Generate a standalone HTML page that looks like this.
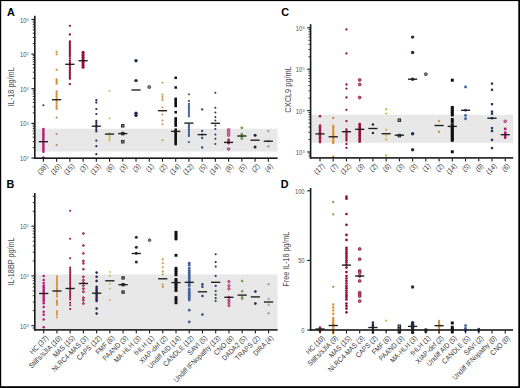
<!DOCTYPE html>
<html><head><meta charset="utf-8"><style>
html,body{margin:0;padding:0;background:#fff;width:520px;height:388px;overflow:hidden;}
svg{display:block;font-family:"Liberation Sans",sans-serif;}
</style></head><body>
<svg width="520" height="388" viewBox="0 0 520 388" font-family="Liberation Sans, sans-serif" fill="#2e2e2e">
<rect width="520" height="388" fill="#fff"/>
<rect x="34.80" y="128.70" width="242.80" height="22.80" fill="#e8e8e8"/>
<circle cx="43.40" cy="105.30" r="1.06" fill="#5e2a55"/>
<circle cx="43.40" cy="129.10" r="1.25" fill="#b01a74"/>
<circle cx="43.40" cy="130.84" r="1.25" fill="#b01a74"/>
<circle cx="43.40" cy="132.58" r="1.25" fill="#b01a74"/>
<circle cx="43.40" cy="134.32" r="1.25" fill="#b01a74"/>
<circle cx="43.40" cy="136.05" r="1.25" fill="#b01a74"/>
<circle cx="43.40" cy="137.79" r="1.25" fill="#b01a74"/>
<circle cx="43.40" cy="139.53" r="1.25" fill="#b01a74"/>
<circle cx="43.40" cy="141.27" r="1.25" fill="#b01a74"/>
<circle cx="43.40" cy="143.01" r="1.25" fill="#b01a74"/>
<circle cx="43.40" cy="144.75" r="1.25" fill="#b01a74"/>
<circle cx="43.40" cy="146.48" r="1.25" fill="#b01a74"/>
<circle cx="43.40" cy="148.22" r="1.25" fill="#b01a74"/>
<circle cx="43.40" cy="149.96" r="1.25" fill="#b01a74"/>
<circle cx="43.40" cy="151.70" r="1.25" fill="#b01a74"/>
<circle cx="43.40" cy="157.50" r="1.25" fill="#b01a74"/>
<circle cx="56.63" cy="51.80" r="1.15" fill="#da8f36"/>
<circle cx="56.63" cy="54.30" r="1.15" fill="#da8f36"/>
<circle cx="56.63" cy="69.80" r="1.15" fill="#da8f36"/>
<circle cx="56.63" cy="79.40" r="1.15" fill="#da8f36"/>
<circle cx="56.63" cy="80.83" r="1.15" fill="#da8f36"/>
<circle cx="56.63" cy="82.27" r="1.15" fill="#da8f36"/>
<circle cx="56.63" cy="83.70" r="1.15" fill="#da8f36"/>
<circle cx="56.63" cy="91.40" r="1.15" fill="#da8f36"/>
<circle cx="56.63" cy="93.14" r="1.15" fill="#da8f36"/>
<circle cx="56.63" cy="94.88" r="1.15" fill="#da8f36"/>
<circle cx="56.63" cy="96.62" r="1.15" fill="#da8f36"/>
<circle cx="56.63" cy="98.36" r="1.15" fill="#da8f36"/>
<circle cx="56.63" cy="100.10" r="1.15" fill="#da8f36"/>
<circle cx="56.63" cy="101.84" r="1.15" fill="#da8f36"/>
<circle cx="56.63" cy="103.58" r="1.15" fill="#da8f36"/>
<circle cx="56.63" cy="105.32" r="1.15" fill="#da8f36"/>
<circle cx="56.63" cy="107.06" r="1.15" fill="#da8f36"/>
<circle cx="56.63" cy="108.80" r="1.15" fill="#da8f36"/>
<circle cx="56.63" cy="117.50" r="1.09" fill="#b08a4a"/>
<circle cx="56.63" cy="134.00" r="1.09" fill="#b08a4a"/>
<circle cx="56.63" cy="145.00" r="1.09" fill="#b08a4a"/>
<circle cx="69.86" cy="25.80" r="1.15" fill="#940e3e"/>
<circle cx="69.86" cy="34.50" r="1.15" fill="#940e3e"/>
<circle cx="69.86" cy="41.30" r="1.15" fill="#940e3e"/>
<circle cx="69.86" cy="42.96" r="1.15" fill="#940e3e"/>
<circle cx="69.86" cy="44.61" r="1.15" fill="#940e3e"/>
<circle cx="69.86" cy="46.27" r="1.15" fill="#940e3e"/>
<circle cx="69.86" cy="47.92" r="1.15" fill="#940e3e"/>
<circle cx="69.86" cy="49.58" r="1.15" fill="#940e3e"/>
<circle cx="69.86" cy="51.23" r="1.15" fill="#940e3e"/>
<circle cx="69.86" cy="52.89" r="1.15" fill="#940e3e"/>
<circle cx="69.86" cy="54.54" r="1.15" fill="#940e3e"/>
<circle cx="69.86" cy="56.20" r="1.15" fill="#940e3e"/>
<circle cx="69.86" cy="58.50" r="1.15" fill="#940e3e"/>
<circle cx="69.86" cy="60.70" r="1.15" fill="#940e3e"/>
<circle cx="69.86" cy="62.35" r="1.15" fill="#940e3e"/>
<circle cx="69.86" cy="63.99" r="1.15" fill="#940e3e"/>
<circle cx="69.86" cy="65.64" r="1.15" fill="#940e3e"/>
<circle cx="69.86" cy="67.28" r="1.15" fill="#940e3e"/>
<circle cx="69.86" cy="68.93" r="1.15" fill="#940e3e"/>
<circle cx="69.86" cy="70.57" r="1.15" fill="#940e3e"/>
<circle cx="69.86" cy="72.22" r="1.15" fill="#940e3e"/>
<circle cx="69.86" cy="73.86" r="1.15" fill="#940e3e"/>
<circle cx="69.86" cy="75.51" r="1.15" fill="#940e3e"/>
<circle cx="69.86" cy="77.15" r="1.15" fill="#940e3e"/>
<circle cx="69.86" cy="78.80" r="1.15" fill="#940e3e"/>
<circle cx="69.86" cy="84.20" r="1.15" fill="#940e3e"/>
<circle cx="83.09" cy="52.20" r="1.50" fill="#940e3e"/>
<circle cx="83.09" cy="53.88" r="1.50" fill="#940e3e"/>
<circle cx="83.09" cy="55.56" r="1.50" fill="#940e3e"/>
<circle cx="83.09" cy="57.23" r="1.50" fill="#940e3e"/>
<circle cx="83.09" cy="58.91" r="1.50" fill="#940e3e"/>
<circle cx="83.09" cy="60.59" r="1.50" fill="#940e3e"/>
<circle cx="83.09" cy="62.27" r="1.50" fill="#940e3e"/>
<circle cx="83.09" cy="63.94" r="1.50" fill="#940e3e"/>
<circle cx="83.09" cy="65.62" r="1.50" fill="#940e3e"/>
<circle cx="83.09" cy="67.30" r="1.50" fill="#940e3e"/>
<circle cx="96.32" cy="100.20" r="1.10" fill="#30204f"/>
<circle cx="96.32" cy="102.60" r="1.10" fill="#30204f"/>
<circle cx="96.32" cy="109.00" r="1.10" fill="#30204f"/>
<circle cx="96.32" cy="114.00" r="1.10" fill="#30204f"/>
<circle cx="96.32" cy="120.80" r="1.10" fill="#30204f"/>
<circle cx="96.32" cy="122.57" r="1.10" fill="#30204f"/>
<circle cx="96.32" cy="124.33" r="1.10" fill="#30204f"/>
<circle cx="96.32" cy="126.10" r="1.10" fill="#30204f"/>
<circle cx="96.32" cy="127.87" r="1.10" fill="#30204f"/>
<circle cx="96.32" cy="129.63" r="1.10" fill="#30204f"/>
<circle cx="96.32" cy="131.40" r="1.10" fill="#30204f"/>
<circle cx="96.32" cy="140.60" r="1.10" fill="#30204f"/>
<circle cx="96.32" cy="146.20" r="1.10" fill="#30204f"/>
<circle cx="96.32" cy="154.20" r="1.10" fill="#30204f"/>
<circle cx="109.55" cy="90.80" r="1.10" fill="#d6bd4f"/>
<circle cx="109.55" cy="118.30" r="1.10" fill="#d6bd4f"/>
<circle cx="109.55" cy="133.00" r="1.10" fill="#d6bd4f"/>
<circle cx="109.55" cy="134.90" r="1.10" fill="#d6bd4f"/>
<circle cx="109.55" cy="136.80" r="1.10" fill="#d6bd4f"/>
<circle cx="109.55" cy="138.70" r="1.10" fill="#d6bd4f"/>
<circle cx="109.55" cy="140.60" r="1.10" fill="#d6bd4f"/>
<rect x="121.58" y="124.60" width="2.40" height="2.40" fill="#b0b0b0" stroke="#2a2a2a" stroke-width="1.1"/>
<rect x="121.58" y="132.40" width="2.40" height="2.40" fill="#b0b0b0" stroke="#2a2a2a" stroke-width="1.1"/>
<rect x="121.58" y="140.50" width="2.40" height="2.40" fill="#b0b0b0" stroke="#2a2a2a" stroke-width="1.1"/>
<circle cx="136.01" cy="60.80" r="1.70" fill="#232a4c"/>
<circle cx="136.01" cy="80.60" r="1.70" fill="#232a4c"/>
<circle cx="136.01" cy="113.30" r="1.70" fill="#232a4c"/>
<circle cx="136.01" cy="115.50" r="1.70" fill="#232a4c"/>
<circle cx="149.24" cy="87.00" r="1.52" fill="#808289" stroke="#3d3f4a" stroke-width="0.8"/>
<circle cx="162.47" cy="82.80" r="1.00" fill="#c99350"/>
<circle cx="162.47" cy="94.60" r="1.00" fill="#c99350"/>
<circle cx="162.47" cy="96.50" r="1.00" fill="#c99350"/>
<circle cx="162.47" cy="98.40" r="1.00" fill="#c99350"/>
<circle cx="162.47" cy="100.30" r="1.00" fill="#c99350"/>
<circle cx="162.47" cy="107.30" r="1.00" fill="#c99350"/>
<circle cx="162.47" cy="110.70" r="1.00" fill="#c99350"/>
<circle cx="162.47" cy="114.50" r="1.00" fill="#c99350"/>
<circle cx="162.47" cy="120.50" r="1.00" fill="#c99350"/>
<circle cx="162.47" cy="124.30" r="1.00" fill="#c99350"/>
<circle cx="162.47" cy="140.30" r="1.00" fill="#c99350"/>
<rect x="174.44" y="76.53" width="2.53" height="2.53" fill="#111111"/>
<rect x="174.44" y="86.23" width="2.53" height="2.53" fill="#111111"/>
<rect x="174.44" y="97.53" width="2.53" height="2.53" fill="#111111"/>
<rect x="174.44" y="99.33" width="2.53" height="2.53" fill="#111111"/>
<rect x="174.44" y="101.14" width="2.53" height="2.53" fill="#111111"/>
<rect x="174.44" y="102.94" width="2.53" height="2.53" fill="#111111"/>
<rect x="174.44" y="104.73" width="2.53" height="2.53" fill="#111111"/>
<rect x="174.44" y="110.94" width="2.53" height="2.53" fill="#111111"/>
<rect x="174.44" y="117.14" width="2.53" height="2.53" fill="#111111"/>
<rect x="174.44" y="118.94" width="2.53" height="2.53" fill="#111111"/>
<rect x="174.44" y="120.73" width="2.53" height="2.53" fill="#111111"/>
<rect x="174.44" y="122.53" width="2.53" height="2.53" fill="#111111"/>
<rect x="174.44" y="124.33" width="2.53" height="2.53" fill="#111111"/>
<rect x="174.44" y="128.44" width="2.53" height="2.53" fill="#111111"/>
<rect x="174.44" y="130.24" width="2.53" height="2.53" fill="#111111"/>
<rect x="174.44" y="132.03" width="2.53" height="2.53" fill="#111111"/>
<rect x="174.44" y="133.84" width="2.53" height="2.53" fill="#111111"/>
<rect x="174.44" y="135.63" width="2.53" height="2.53" fill="#111111"/>
<rect x="174.44" y="137.44" width="2.53" height="2.53" fill="#111111"/>
<rect x="174.44" y="139.24" width="2.53" height="2.53" fill="#111111"/>
<rect x="174.44" y="141.03" width="2.53" height="2.53" fill="#111111"/>
<rect x="174.44" y="142.84" width="2.53" height="2.53" fill="#111111"/>
<circle cx="188.93" cy="94.30" r="1.15" fill="#42629b"/>
<circle cx="188.93" cy="100.90" r="1.15" fill="#42629b"/>
<circle cx="188.93" cy="104.00" r="1.15" fill="#42629b"/>
<circle cx="188.93" cy="105.76" r="1.15" fill="#42629b"/>
<circle cx="188.93" cy="107.51" r="1.15" fill="#42629b"/>
<circle cx="188.93" cy="109.27" r="1.15" fill="#42629b"/>
<circle cx="188.93" cy="111.03" r="1.15" fill="#42629b"/>
<circle cx="188.93" cy="112.79" r="1.15" fill="#42629b"/>
<circle cx="188.93" cy="114.54" r="1.15" fill="#42629b"/>
<circle cx="188.93" cy="116.30" r="1.15" fill="#42629b"/>
<circle cx="188.93" cy="124.60" r="1.15" fill="#42629b"/>
<circle cx="188.93" cy="126.21" r="1.15" fill="#42629b"/>
<circle cx="188.93" cy="127.83" r="1.15" fill="#42629b"/>
<circle cx="188.93" cy="129.44" r="1.15" fill="#42629b"/>
<circle cx="188.93" cy="131.06" r="1.15" fill="#42629b"/>
<circle cx="188.93" cy="132.67" r="1.15" fill="#42629b"/>
<circle cx="188.93" cy="134.29" r="1.15" fill="#42629b"/>
<circle cx="188.93" cy="135.90" r="1.15" fill="#42629b"/>
<circle cx="188.93" cy="142.10" r="1.15" fill="#42629b"/>
<circle cx="202.16" cy="109.40" r="1.15" fill="#2d3e6a"/>
<circle cx="202.16" cy="131.00" r="1.15" fill="#2d3e6a"/>
<circle cx="202.16" cy="134.60" r="1.15" fill="#2d3e6a"/>
<circle cx="202.16" cy="138.00" r="1.15" fill="#2d3e6a"/>
<circle cx="202.16" cy="147.50" r="1.15" fill="#2d3e6a"/>
<circle cx="215.39" cy="92.80" r="1.00" fill="#2a345c"/>
<circle cx="215.39" cy="107.80" r="1.00" fill="#2a345c"/>
<circle cx="215.39" cy="112.60" r="1.00" fill="#2a345c"/>
<circle cx="215.39" cy="117.10" r="1.00" fill="#2a345c"/>
<circle cx="215.39" cy="120.50" r="1.00" fill="#2a345c"/>
<circle cx="215.39" cy="125.50" r="1.00" fill="#2a345c"/>
<circle cx="215.39" cy="129.00" r="1.00" fill="#2a345c"/>
<circle cx="215.39" cy="134.60" r="1.00" fill="#2a345c"/>
<circle cx="215.39" cy="138.70" r="1.00" fill="#2a345c"/>
<circle cx="215.39" cy="143.90" r="1.00" fill="#2a345c"/>
<circle cx="228.62" cy="129.90" r="1.33" fill="#d98ab4" stroke="#b3166a" stroke-width="0.8"/>
<circle cx="228.62" cy="132.50" r="1.33" fill="#d98ab4" stroke="#b3166a" stroke-width="0.8"/>
<circle cx="228.62" cy="135.20" r="1.33" fill="#d98ab4" stroke="#b3166a" stroke-width="0.8"/>
<circle cx="228.62" cy="139.80" r="1.40" fill="#b3166a"/>
<circle cx="228.62" cy="141.60" r="1.40" fill="#b3166a"/>
<circle cx="228.62" cy="143.20" r="1.40" fill="#b3166a"/>
<circle cx="228.62" cy="149.00" r="1.33" fill="#d98ab4" stroke="#b3166a" stroke-width="0.8"/>
<circle cx="241.85" cy="127.80" r="1.40" fill="#739a48"/>
<circle cx="241.85" cy="134.20" r="1.40" fill="#739a48"/>
<circle cx="241.85" cy="136.70" r="1.40" fill="#739a48"/>
<circle cx="241.85" cy="138.70" r="1.40" fill="#739a48"/>
<circle cx="255.08" cy="135.20" r="1.50" fill="#1f2342"/>
<circle cx="255.08" cy="147.00" r="1.50" fill="#1f2342"/>
<circle cx="268.31" cy="131.10" r="1.40" fill="#a9a9a9"/>
<circle cx="268.31" cy="141.20" r="1.40" fill="#a9a9a9"/>
<circle cx="268.31" cy="146.30" r="1.40" fill="#a9a9a9"/>
<rect x="38.80" y="141.02" width="9.2" height="1.35" fill="#1c1f1c"/>
<rect x="52.03" y="99.03" width="9.2" height="1.35" fill="#1c1f1c"/>
<rect x="65.26" y="63.62" width="9.2" height="1.35" fill="#1c1f1c"/>
<rect x="78.49" y="60.03" width="9.2" height="1.35" fill="#1c1f1c"/>
<rect x="91.72" y="125.53" width="9.2" height="1.35" fill="#1c1f1c"/>
<rect x="104.95" y="133.42" width="9.2" height="1.35" fill="#1c1f1c"/>
<rect x="118.18" y="132.92" width="9.2" height="1.35" fill="#1c1f1c"/>
<rect x="131.41" y="89.33" width="9.2" height="1.35" fill="#1c1f1c"/>
<rect x="157.87" y="110.03" width="9.2" height="1.35" fill="#1c1f1c"/>
<rect x="171.10" y="130.72" width="9.2" height="1.35" fill="#1c1f1c"/>
<rect x="184.33" y="122.42" width="9.2" height="1.35" fill="#1c1f1c"/>
<rect x="197.56" y="133.92" width="9.2" height="1.35" fill="#1c1f1c"/>
<rect x="210.79" y="122.62" width="9.2" height="1.35" fill="#1c1f1c"/>
<rect x="224.02" y="141.72" width="9.2" height="1.35" fill="#1c1f1c"/>
<rect x="237.25" y="135.32" width="9.2" height="1.35" fill="#1c1f1c"/>
<rect x="250.48" y="139.52" width="9.2" height="1.35" fill="#1c1f1c"/>
<rect x="263.71" y="140.52" width="9.2" height="1.35" fill="#1c1f1c"/>
<rect x="34.00" y="15.80" width="1.6" height="143.20" fill="#1a1a1a"/>
<rect x="34.00" y="157.40" width="243.60" height="1.6" fill="#1a1a1a"/>
<rect x="31.40" y="157.45" width="3" height="1.1" fill="#1a1a1a"/>
<text x="26.40" y="161.10" text-anchor="end" font-size="6.8" fill="#505050" textLength="6.4" lengthAdjust="spacingAndGlyphs">10</text><text x="26.60" y="159.20" font-size="4" fill="#606060">2</text>
<rect x="31.40" y="122.80" width="3" height="1.1" fill="#1a1a1a"/>
<text x="26.40" y="126.45" text-anchor="end" font-size="6.8" fill="#505050" textLength="6.4" lengthAdjust="spacingAndGlyphs">10</text><text x="26.60" y="124.55" font-size="4" fill="#606060">3</text>
<rect x="31.40" y="88.15" width="3" height="1.1" fill="#1a1a1a"/>
<text x="26.40" y="91.80" text-anchor="end" font-size="6.8" fill="#505050" textLength="6.4" lengthAdjust="spacingAndGlyphs">10</text><text x="26.60" y="89.90" font-size="4" fill="#606060">4</text>
<rect x="31.40" y="53.50" width="3" height="1.1" fill="#1a1a1a"/>
<text x="26.40" y="57.15" text-anchor="end" font-size="6.8" fill="#505050" textLength="6.4" lengthAdjust="spacingAndGlyphs">10</text><text x="26.60" y="55.25" font-size="4" fill="#606060">5</text>
<rect x="31.40" y="18.85" width="3" height="1.1" fill="#1a1a1a"/>
<text x="26.40" y="22.50" text-anchor="end" font-size="6.8" fill="#505050" textLength="6.4" lengthAdjust="spacingAndGlyphs">10</text><text x="26.60" y="20.60" font-size="4" fill="#606060">6</text>
<rect x="32.70" y="147.12" width="1.6" height="0.9" fill="#1a1a1a"/>
<rect x="32.70" y="141.02" width="1.6" height="0.9" fill="#1a1a1a"/>
<rect x="32.70" y="136.69" width="1.6" height="0.9" fill="#1a1a1a"/>
<rect x="32.70" y="133.33" width="1.6" height="0.9" fill="#1a1a1a"/>
<rect x="32.70" y="130.59" width="1.6" height="0.9" fill="#1a1a1a"/>
<rect x="32.70" y="128.27" width="1.6" height="0.9" fill="#1a1a1a"/>
<rect x="32.70" y="126.26" width="1.6" height="0.9" fill="#1a1a1a"/>
<rect x="32.70" y="124.49" width="1.6" height="0.9" fill="#1a1a1a"/>
<rect x="32.70" y="112.47" width="1.6" height="0.9" fill="#1a1a1a"/>
<rect x="32.70" y="106.37" width="1.6" height="0.9" fill="#1a1a1a"/>
<rect x="32.70" y="102.04" width="1.6" height="0.9" fill="#1a1a1a"/>
<rect x="32.70" y="98.68" width="1.6" height="0.9" fill="#1a1a1a"/>
<rect x="32.70" y="95.94" width="1.6" height="0.9" fill="#1a1a1a"/>
<rect x="32.70" y="93.62" width="1.6" height="0.9" fill="#1a1a1a"/>
<rect x="32.70" y="91.61" width="1.6" height="0.9" fill="#1a1a1a"/>
<rect x="32.70" y="89.84" width="1.6" height="0.9" fill="#1a1a1a"/>
<rect x="32.70" y="77.82" width="1.6" height="0.9" fill="#1a1a1a"/>
<rect x="32.70" y="71.72" width="1.6" height="0.9" fill="#1a1a1a"/>
<rect x="32.70" y="67.39" width="1.6" height="0.9" fill="#1a1a1a"/>
<rect x="32.70" y="64.03" width="1.6" height="0.9" fill="#1a1a1a"/>
<rect x="32.70" y="61.29" width="1.6" height="0.9" fill="#1a1a1a"/>
<rect x="32.70" y="58.97" width="1.6" height="0.9" fill="#1a1a1a"/>
<rect x="32.70" y="56.96" width="1.6" height="0.9" fill="#1a1a1a"/>
<rect x="32.70" y="55.19" width="1.6" height="0.9" fill="#1a1a1a"/>
<rect x="32.70" y="43.17" width="1.6" height="0.9" fill="#1a1a1a"/>
<rect x="32.70" y="37.07" width="1.6" height="0.9" fill="#1a1a1a"/>
<rect x="32.70" y="32.74" width="1.6" height="0.9" fill="#1a1a1a"/>
<rect x="32.70" y="29.38" width="1.6" height="0.9" fill="#1a1a1a"/>
<rect x="32.70" y="26.64" width="1.6" height="0.9" fill="#1a1a1a"/>
<rect x="32.70" y="24.32" width="1.6" height="0.9" fill="#1a1a1a"/>
<rect x="32.70" y="22.31" width="1.6" height="0.9" fill="#1a1a1a"/>
<rect x="32.70" y="20.54" width="1.6" height="0.9" fill="#1a1a1a"/>
<rect x="42.85" y="158.70" width="1.1" height="3" fill="#1a1a1a"/>
<text transform="translate(48.50,166.80) rotate(-45)" text-anchor="end" font-size="7.3" fill="#3a3a3a" textLength="11.68" lengthAdjust="spacingAndGlyphs">(38)</text>
<rect x="56.08" y="158.70" width="1.1" height="3" fill="#1a1a1a"/>
<text transform="translate(61.73,166.80) rotate(-45)" text-anchor="end" font-size="7.3" fill="#3a3a3a" textLength="11.68" lengthAdjust="spacingAndGlyphs">(10)</text>
<rect x="69.31" y="158.70" width="1.1" height="3" fill="#1a1a1a"/>
<text transform="translate(74.96,166.80) rotate(-45)" text-anchor="end" font-size="7.3" fill="#3a3a3a" textLength="11.68" lengthAdjust="spacingAndGlyphs">(15)</text>
<rect x="82.54" y="158.70" width="1.1" height="3" fill="#1a1a1a"/>
<text transform="translate(88.19,166.80) rotate(-45)" text-anchor="end" font-size="7.3" fill="#3a3a3a" textLength="8.03" lengthAdjust="spacingAndGlyphs">(3)</text>
<rect x="95.77" y="158.70" width="1.1" height="3" fill="#1a1a1a"/>
<text transform="translate(101.42,166.80) rotate(-45)" text-anchor="end" font-size="7.3" fill="#3a3a3a" textLength="11.68" lengthAdjust="spacingAndGlyphs">(13)</text>
<rect x="109.00" y="158.70" width="1.1" height="3" fill="#1a1a1a"/>
<text transform="translate(114.65,166.80) rotate(-45)" text-anchor="end" font-size="7.3" fill="#3a3a3a" textLength="8.03" lengthAdjust="spacingAndGlyphs">(6)</text>
<rect x="122.23" y="158.70" width="1.1" height="3" fill="#1a1a1a"/>
<text transform="translate(127.88,166.80) rotate(-45)" text-anchor="end" font-size="7.3" fill="#3a3a3a" textLength="8.03" lengthAdjust="spacingAndGlyphs">(3)</text>
<rect x="135.46" y="158.70" width="1.1" height="3" fill="#1a1a1a"/>
<text transform="translate(141.11,166.80) rotate(-45)" text-anchor="end" font-size="7.3" fill="#3a3a3a" textLength="8.03" lengthAdjust="spacingAndGlyphs">(3)</text>
<rect x="148.69" y="158.70" width="1.1" height="3" fill="#1a1a1a"/>
<text transform="translate(154.34,166.80) rotate(-45)" text-anchor="end" font-size="7.3" fill="#3a3a3a" textLength="8.03" lengthAdjust="spacingAndGlyphs">(1)</text>
<rect x="161.92" y="158.70" width="1.1" height="3" fill="#1a1a1a"/>
<text transform="translate(167.57,166.80) rotate(-45)" text-anchor="end" font-size="7.3" fill="#3a3a3a" textLength="8.03" lengthAdjust="spacingAndGlyphs">(2)</text>
<rect x="175.15" y="158.70" width="1.1" height="3" fill="#1a1a1a"/>
<text transform="translate(180.80,166.80) rotate(-45)" text-anchor="end" font-size="7.3" fill="#3a3a3a" textLength="11.68" lengthAdjust="spacingAndGlyphs">(14)</text>
<rect x="188.38" y="158.70" width="1.1" height="3" fill="#1a1a1a"/>
<text transform="translate(194.03,166.80) rotate(-45)" text-anchor="end" font-size="7.3" fill="#3a3a3a" textLength="11.68" lengthAdjust="spacingAndGlyphs">(12)</text>
<rect x="201.61" y="158.70" width="1.1" height="3" fill="#1a1a1a"/>
<text transform="translate(207.26,166.80) rotate(-45)" text-anchor="end" font-size="7.3" fill="#3a3a3a" textLength="8.03" lengthAdjust="spacingAndGlyphs">(5)</text>
<rect x="214.84" y="158.70" width="1.1" height="3" fill="#1a1a1a"/>
<text transform="translate(220.49,166.80) rotate(-45)" text-anchor="end" font-size="7.3" fill="#3a3a3a" textLength="11.68" lengthAdjust="spacingAndGlyphs">(14)</text>
<rect x="228.07" y="158.70" width="1.1" height="3" fill="#1a1a1a"/>
<text transform="translate(233.72,166.80) rotate(-45)" text-anchor="end" font-size="7.3" fill="#3a3a3a" textLength="8.03" lengthAdjust="spacingAndGlyphs">(8)</text>
<rect x="241.30" y="158.70" width="1.1" height="3" fill="#1a1a1a"/>
<text transform="translate(246.95,166.80) rotate(-45)" text-anchor="end" font-size="7.3" fill="#3a3a3a" textLength="8.03" lengthAdjust="spacingAndGlyphs">(5)</text>
<rect x="254.53" y="158.70" width="1.1" height="3" fill="#1a1a1a"/>
<text transform="translate(260.18,166.80) rotate(-45)" text-anchor="end" font-size="7.3" fill="#3a3a3a" textLength="8.03" lengthAdjust="spacingAndGlyphs">(2)</text>
<rect x="267.76" y="158.70" width="1.1" height="3" fill="#1a1a1a"/>
<text transform="translate(273.41,166.80) rotate(-45)" text-anchor="end" font-size="7.3" fill="#3a3a3a" textLength="8.03" lengthAdjust="spacingAndGlyphs">(4)</text>
<text transform="translate(13.90,86.75) rotate(-90)" text-anchor="middle" font-size="8.2" fill="#4d4d4d" textLength="38.90" lengthAdjust="spacingAndGlyphs">IL-18 pg/mL</text>
<rect x="34.80" y="274.40" width="242.80" height="54.80" fill="#e8e8e8"/>
<circle cx="43.70" cy="275.90" r="1.23" fill="#b01a74"/>
<circle cx="43.70" cy="280.00" r="1.23" fill="#b01a74"/>
<circle cx="43.70" cy="283.10" r="1.23" fill="#b01a74"/>
<circle cx="43.70" cy="285.50" r="1.23" fill="#b01a74"/>
<circle cx="43.70" cy="287.22" r="1.23" fill="#b01a74"/>
<circle cx="43.70" cy="288.94" r="1.23" fill="#b01a74"/>
<circle cx="43.70" cy="290.67" r="1.23" fill="#b01a74"/>
<circle cx="43.70" cy="292.39" r="1.23" fill="#b01a74"/>
<circle cx="43.70" cy="294.11" r="1.23" fill="#b01a74"/>
<circle cx="43.70" cy="295.83" r="1.23" fill="#b01a74"/>
<circle cx="43.70" cy="297.56" r="1.23" fill="#b01a74"/>
<circle cx="43.70" cy="299.28" r="1.23" fill="#b01a74"/>
<circle cx="43.70" cy="301.00" r="1.23" fill="#b01a74"/>
<circle cx="43.70" cy="303.20" r="1.23" fill="#b01a74"/>
<circle cx="43.70" cy="307.10" r="1.23" fill="#b01a74"/>
<circle cx="43.70" cy="311.70" r="1.23" fill="#b01a74"/>
<circle cx="43.70" cy="314.80" r="1.23" fill="#b01a74"/>
<circle cx="43.70" cy="319.50" r="1.23" fill="#b01a74"/>
<circle cx="43.70" cy="327.20" r="1.23" fill="#b01a74"/>
<circle cx="56.93" cy="276.30" r="1.06" fill="#da8f36"/>
<circle cx="56.93" cy="278.00" r="1.06" fill="#da8f36"/>
<circle cx="56.93" cy="279.70" r="1.06" fill="#da8f36"/>
<circle cx="56.93" cy="281.40" r="1.06" fill="#da8f36"/>
<circle cx="56.93" cy="283.10" r="1.06" fill="#da8f36"/>
<circle cx="56.93" cy="284.80" r="1.06" fill="#da8f36"/>
<circle cx="56.93" cy="286.50" r="1.06" fill="#da8f36"/>
<circle cx="56.93" cy="288.20" r="1.06" fill="#da8f36"/>
<circle cx="56.93" cy="289.90" r="1.06" fill="#da8f36"/>
<circle cx="56.93" cy="291.60" r="1.06" fill="#da8f36"/>
<circle cx="56.93" cy="293.30" r="1.06" fill="#da8f36"/>
<circle cx="56.93" cy="295.00" r="1.06" fill="#da8f36"/>
<circle cx="56.93" cy="296.70" r="1.06" fill="#da8f36"/>
<circle cx="56.93" cy="300.50" r="1.06" fill="#da8f36"/>
<circle cx="56.93" cy="301.93" r="1.06" fill="#da8f36"/>
<circle cx="56.93" cy="303.37" r="1.06" fill="#da8f36"/>
<circle cx="56.93" cy="304.80" r="1.06" fill="#da8f36"/>
<circle cx="56.93" cy="311.00" r="1.06" fill="#da8f36"/>
<circle cx="56.93" cy="312.85" r="1.06" fill="#da8f36"/>
<circle cx="56.93" cy="314.70" r="1.06" fill="#da8f36"/>
<circle cx="56.93" cy="317.50" r="1.06" fill="#da8f36"/>
<circle cx="70.16" cy="210.70" r="1.01" fill="#940e3e"/>
<circle cx="70.16" cy="238.70" r="1.01" fill="#940e3e"/>
<circle cx="70.16" cy="258.30" r="1.01" fill="#940e3e"/>
<circle cx="70.16" cy="267.60" r="1.01" fill="#940e3e"/>
<circle cx="70.16" cy="269.27" r="1.01" fill="#940e3e"/>
<circle cx="70.16" cy="270.95" r="1.01" fill="#940e3e"/>
<circle cx="70.16" cy="272.62" r="1.01" fill="#940e3e"/>
<circle cx="70.16" cy="274.29" r="1.01" fill="#940e3e"/>
<circle cx="70.16" cy="275.97" r="1.01" fill="#940e3e"/>
<circle cx="70.16" cy="277.64" r="1.01" fill="#940e3e"/>
<circle cx="70.16" cy="279.32" r="1.01" fill="#940e3e"/>
<circle cx="70.16" cy="280.99" r="1.01" fill="#940e3e"/>
<circle cx="70.16" cy="282.66" r="1.01" fill="#940e3e"/>
<circle cx="70.16" cy="284.34" r="1.01" fill="#940e3e"/>
<circle cx="70.16" cy="286.01" r="1.01" fill="#940e3e"/>
<circle cx="70.16" cy="287.68" r="1.01" fill="#940e3e"/>
<circle cx="70.16" cy="289.36" r="1.01" fill="#940e3e"/>
<circle cx="70.16" cy="291.03" r="1.01" fill="#940e3e"/>
<circle cx="70.16" cy="292.71" r="1.01" fill="#940e3e"/>
<circle cx="70.16" cy="294.38" r="1.01" fill="#940e3e"/>
<circle cx="70.16" cy="296.05" r="1.01" fill="#940e3e"/>
<circle cx="70.16" cy="297.73" r="1.01" fill="#940e3e"/>
<circle cx="70.16" cy="299.40" r="1.01" fill="#940e3e"/>
<circle cx="70.16" cy="302.70" r="1.01" fill="#940e3e"/>
<circle cx="70.16" cy="305.20" r="1.01" fill="#940e3e"/>
<circle cx="70.16" cy="308.90" r="1.01" fill="#940e3e"/>
<circle cx="83.39" cy="233.50" r="0.96" fill="#b96281" stroke="#940e3e" stroke-width="0.8"/>
<circle cx="83.39" cy="245.50" r="0.96" fill="#b96281" stroke="#940e3e" stroke-width="0.8"/>
<circle cx="83.39" cy="253.40" r="0.96" fill="#b96281" stroke="#940e3e" stroke-width="0.8"/>
<circle cx="83.39" cy="260.90" r="0.96" fill="#b96281" stroke="#940e3e" stroke-width="0.8"/>
<circle cx="83.39" cy="263.40" r="0.96" fill="#b96281" stroke="#940e3e" stroke-width="0.8"/>
<circle cx="83.39" cy="269.20" r="0.96" fill="#b96281" stroke="#940e3e" stroke-width="0.8"/>
<circle cx="83.39" cy="276.80" r="0.96" fill="#b96281" stroke="#940e3e" stroke-width="0.8"/>
<circle cx="83.39" cy="280.10" r="0.96" fill="#b96281" stroke="#940e3e" stroke-width="0.8"/>
<circle cx="83.39" cy="282.60" r="0.96" fill="#b96281" stroke="#940e3e" stroke-width="0.8"/>
<circle cx="83.39" cy="285.67" r="0.96" fill="#b96281" stroke="#940e3e" stroke-width="0.8"/>
<circle cx="83.39" cy="288.73" r="0.96" fill="#b96281" stroke="#940e3e" stroke-width="0.8"/>
<circle cx="83.39" cy="291.80" r="0.96" fill="#b96281" stroke="#940e3e" stroke-width="0.8"/>
<circle cx="83.39" cy="297.70" r="0.96" fill="#b96281" stroke="#940e3e" stroke-width="0.8"/>
<circle cx="83.39" cy="300.20" r="0.96" fill="#b96281" stroke="#940e3e" stroke-width="0.8"/>
<circle cx="83.39" cy="303.50" r="0.96" fill="#b96281" stroke="#940e3e" stroke-width="0.8"/>
<circle cx="96.62" cy="272.60" r="1.28" fill="#30204f"/>
<circle cx="96.62" cy="276.80" r="1.28" fill="#30204f"/>
<circle cx="96.62" cy="280.90" r="1.28" fill="#30204f"/>
<circle cx="96.62" cy="286.80" r="1.28" fill="#30204f"/>
<circle cx="96.62" cy="288.57" r="1.28" fill="#30204f"/>
<circle cx="96.62" cy="290.35" r="1.28" fill="#30204f"/>
<circle cx="96.62" cy="292.12" r="1.28" fill="#30204f"/>
<circle cx="96.62" cy="293.90" r="1.28" fill="#30204f"/>
<circle cx="96.62" cy="295.68" r="1.28" fill="#30204f"/>
<circle cx="96.62" cy="297.45" r="1.28" fill="#30204f"/>
<circle cx="96.62" cy="299.23" r="1.28" fill="#30204f"/>
<circle cx="96.62" cy="301.00" r="1.28" fill="#30204f"/>
<circle cx="96.62" cy="308.60" r="1.28" fill="#30204f"/>
<circle cx="96.62" cy="313.60" r="1.28" fill="#30204f"/>
<circle cx="109.85" cy="272.00" r="1.06" fill="#d6bd4f"/>
<circle cx="109.85" cy="275.80" r="1.06" fill="#d6bd4f"/>
<circle cx="109.85" cy="283.80" r="1.06" fill="#d6bd4f"/>
<circle cx="109.85" cy="288.80" r="1.06" fill="#d6bd4f"/>
<circle cx="109.85" cy="300.10" r="1.06" fill="#d6bd4f"/>
<rect x="121.95" y="276.77" width="2.25" height="2.25" fill="#b0b0b0" stroke="#2a2a2a" stroke-width="1.1"/>
<rect x="121.95" y="283.57" width="2.25" height="2.25" fill="#b0b0b0" stroke="#2a2a2a" stroke-width="1.1"/>
<rect x="121.95" y="290.97" width="2.25" height="2.25" fill="#b0b0b0" stroke="#2a2a2a" stroke-width="1.1"/>
<circle cx="136.31" cy="237.20" r="1.50" fill="#232a4c"/>
<circle cx="136.31" cy="247.30" r="1.50" fill="#232a4c"/>
<circle cx="136.31" cy="253.20" r="1.50" fill="#232a4c"/>
<circle cx="136.31" cy="262.10" r="1.50" fill="#232a4c"/>
<circle cx="149.54" cy="240.20" r="1.34" fill="#808289" stroke="#3d3f4a" stroke-width="0.8"/>
<circle cx="162.77" cy="259.40" r="1.06" fill="#c99350"/>
<circle cx="162.77" cy="263.30" r="1.06" fill="#c99350"/>
<circle cx="162.77" cy="267.20" r="1.06" fill="#c99350"/>
<circle cx="162.77" cy="271.40" r="1.06" fill="#c99350"/>
<circle cx="162.77" cy="274.30" r="1.06" fill="#c99350"/>
<circle cx="162.77" cy="284.60" r="1.06" fill="#c99350"/>
<circle cx="162.77" cy="286.90" r="1.06" fill="#c99350"/>
<rect x="174.55" y="230.85" width="2.90" height="2.90" fill="#111111"/>
<rect x="174.55" y="233.05" width="2.90" height="2.90" fill="#111111"/>
<rect x="174.55" y="235.25" width="2.90" height="2.90" fill="#111111"/>
<rect x="174.55" y="237.45" width="2.90" height="2.90" fill="#111111"/>
<rect x="174.55" y="253.85" width="2.90" height="2.90" fill="#111111"/>
<rect x="174.55" y="266.85" width="2.90" height="2.90" fill="#111111"/>
<rect x="174.55" y="269.01" width="2.90" height="2.90" fill="#111111"/>
<rect x="174.55" y="271.18" width="2.90" height="2.90" fill="#111111"/>
<rect x="174.55" y="273.35" width="2.90" height="2.90" fill="#111111"/>
<rect x="174.55" y="278.05" width="2.90" height="2.90" fill="#111111"/>
<rect x="174.55" y="280.25" width="2.90" height="2.90" fill="#111111"/>
<rect x="174.55" y="282.45" width="2.90" height="2.90" fill="#111111"/>
<rect x="174.55" y="284.65" width="2.90" height="2.90" fill="#111111"/>
<rect x="174.55" y="286.85" width="2.90" height="2.90" fill="#111111"/>
<rect x="174.55" y="289.05" width="2.90" height="2.90" fill="#111111"/>
<rect x="174.55" y="296.15" width="2.90" height="2.90" fill="#111111"/>
<rect x="174.55" y="298.75" width="2.90" height="2.90" fill="#111111"/>
<rect x="174.55" y="301.35" width="2.90" height="2.90" fill="#111111"/>
<circle cx="189.23" cy="263.20" r="1.41" fill="#42629b"/>
<circle cx="189.23" cy="265.20" r="1.41" fill="#42629b"/>
<circle cx="189.23" cy="268.20" r="1.41" fill="#42629b"/>
<circle cx="189.23" cy="270.50" r="1.41" fill="#42629b"/>
<circle cx="189.23" cy="272.22" r="1.41" fill="#42629b"/>
<circle cx="189.23" cy="273.94" r="1.41" fill="#42629b"/>
<circle cx="189.23" cy="275.67" r="1.41" fill="#42629b"/>
<circle cx="189.23" cy="277.39" r="1.41" fill="#42629b"/>
<circle cx="189.23" cy="279.11" r="1.41" fill="#42629b"/>
<circle cx="189.23" cy="280.83" r="1.41" fill="#42629b"/>
<circle cx="189.23" cy="282.56" r="1.41" fill="#42629b"/>
<circle cx="189.23" cy="284.28" r="1.41" fill="#42629b"/>
<circle cx="189.23" cy="286.00" r="1.41" fill="#42629b"/>
<circle cx="189.23" cy="289.00" r="1.41" fill="#42629b"/>
<circle cx="189.23" cy="290.59" r="1.41" fill="#42629b"/>
<circle cx="189.23" cy="292.17" r="1.41" fill="#42629b"/>
<circle cx="189.23" cy="293.76" r="1.41" fill="#42629b"/>
<circle cx="189.23" cy="295.34" r="1.41" fill="#42629b"/>
<circle cx="189.23" cy="296.93" r="1.41" fill="#42629b"/>
<circle cx="189.23" cy="298.51" r="1.41" fill="#42629b"/>
<circle cx="189.23" cy="300.10" r="1.41" fill="#42629b"/>
<circle cx="189.23" cy="310.20" r="1.41" fill="#42629b"/>
<circle cx="189.23" cy="321.90" r="1.41" fill="#42629b"/>
<circle cx="202.46" cy="284.20" r="1.23" fill="#2d3e6a"/>
<circle cx="202.46" cy="286.70" r="1.23" fill="#2d3e6a"/>
<circle cx="202.46" cy="296.00" r="1.23" fill="#2d3e6a"/>
<circle cx="202.46" cy="314.40" r="1.23" fill="#2d3e6a"/>
<circle cx="215.69" cy="254.20" r="1.06" fill="#2a345c"/>
<circle cx="215.69" cy="262.10" r="1.06" fill="#2a345c"/>
<circle cx="215.69" cy="266.60" r="1.06" fill="#2a345c"/>
<circle cx="215.69" cy="275.90" r="1.06" fill="#2a345c"/>
<circle cx="215.69" cy="285.90" r="1.06" fill="#2a345c"/>
<circle cx="215.69" cy="291.00" r="1.06" fill="#2a345c"/>
<circle cx="215.69" cy="294.80" r="1.06" fill="#2a345c"/>
<circle cx="215.69" cy="298.10" r="1.06" fill="#2a345c"/>
<circle cx="215.69" cy="301.00" r="1.06" fill="#2a345c"/>
<circle cx="228.92" cy="281.60" r="1.17" fill="#d98ab4" stroke="#b3166a" stroke-width="0.8"/>
<circle cx="228.92" cy="285.70" r="1.17" fill="#d98ab4" stroke="#b3166a" stroke-width="0.8"/>
<circle cx="228.92" cy="288.80" r="1.17" fill="#d98ab4" stroke="#b3166a" stroke-width="0.8"/>
<circle cx="228.92" cy="297.30" r="1.17" fill="#d98ab4" stroke="#b3166a" stroke-width="0.8"/>
<circle cx="228.92" cy="300.20" r="1.17" fill="#d98ab4" stroke="#b3166a" stroke-width="0.8"/>
<circle cx="228.92" cy="302.70" r="1.17" fill="#d98ab4" stroke="#b3166a" stroke-width="0.8"/>
<circle cx="228.92" cy="305.60" r="1.17" fill="#d98ab4" stroke="#b3166a" stroke-width="0.8"/>
<circle cx="242.15" cy="281.00" r="1.23" fill="#739a48"/>
<circle cx="242.15" cy="291.20" r="1.23" fill="#739a48"/>
<circle cx="242.15" cy="297.30" r="1.23" fill="#739a48"/>
<circle cx="242.15" cy="298.70" r="1.23" fill="#739a48"/>
<circle cx="255.38" cy="291.50" r="1.32" fill="#1f2342"/>
<circle cx="255.38" cy="303.60" r="1.32" fill="#1f2342"/>
<circle cx="268.61" cy="284.30" r="1.23" fill="#a9a9a9"/>
<circle cx="268.61" cy="299.10" r="1.23" fill="#a9a9a9"/>
<circle cx="268.61" cy="304.70" r="1.23" fill="#a9a9a9"/>
<circle cx="268.61" cy="313.20" r="1.23" fill="#a9a9a9"/>
<rect x="39.10" y="292.82" width="9.2" height="1.35" fill="#1c1f1c"/>
<rect x="52.33" y="290.32" width="9.2" height="1.35" fill="#1c1f1c"/>
<rect x="65.56" y="287.82" width="9.2" height="1.35" fill="#1c1f1c"/>
<rect x="78.79" y="282.82" width="9.2" height="1.35" fill="#1c1f1c"/>
<rect x="92.02" y="292.52" width="9.2" height="1.35" fill="#1c1f1c"/>
<rect x="105.25" y="280.12" width="9.2" height="1.35" fill="#1c1f1c"/>
<rect x="118.48" y="284.02" width="9.2" height="1.35" fill="#1c1f1c"/>
<rect x="131.71" y="252.82" width="9.2" height="1.35" fill="#1c1f1c"/>
<rect x="158.17" y="278.12" width="9.2" height="1.35" fill="#1c1f1c"/>
<rect x="171.40" y="281.93" width="9.2" height="1.35" fill="#1c1f1c"/>
<rect x="184.63" y="281.62" width="9.2" height="1.35" fill="#1c1f1c"/>
<rect x="197.86" y="291.12" width="9.2" height="1.35" fill="#1c1f1c"/>
<rect x="211.09" y="281.62" width="9.2" height="1.35" fill="#1c1f1c"/>
<rect x="224.32" y="296.62" width="9.2" height="1.35" fill="#1c1f1c"/>
<rect x="237.55" y="294.43" width="9.2" height="1.35" fill="#1c1f1c"/>
<rect x="250.78" y="296.22" width="9.2" height="1.35" fill="#1c1f1c"/>
<rect x="264.01" y="301.32" width="9.2" height="1.35" fill="#1c1f1c"/>
<rect x="34.00" y="193.00" width="1.6" height="137.70" fill="#1a1a1a"/>
<rect x="34.00" y="329.10" width="243.60" height="1.6" fill="#1a1a1a"/>
<rect x="31.40" y="325.15" width="3" height="1.1" fill="#1a1a1a"/>
<text x="26.40" y="328.80" text-anchor="end" font-size="6.8" fill="#505050" textLength="6.4" lengthAdjust="spacingAndGlyphs">10</text><text x="26.60" y="326.90" font-size="4" fill="#606060">3</text>
<rect x="31.40" y="275.40" width="3" height="1.1" fill="#1a1a1a"/>
<text x="26.40" y="279.05" text-anchor="end" font-size="6.8" fill="#505050" textLength="6.4" lengthAdjust="spacingAndGlyphs">10</text><text x="26.60" y="277.15" font-size="4" fill="#606060">4</text>
<rect x="31.40" y="225.65" width="3" height="1.1" fill="#1a1a1a"/>
<text x="26.40" y="229.30" text-anchor="end" font-size="6.8" fill="#505050" textLength="6.4" lengthAdjust="spacingAndGlyphs">10</text><text x="26.60" y="227.40" font-size="4" fill="#606060">5</text>
<rect x="32.70" y="327.53" width="1.6" height="0.9" fill="#1a1a1a"/>
<rect x="32.70" y="310.27" width="1.6" height="0.9" fill="#1a1a1a"/>
<rect x="32.70" y="301.51" width="1.6" height="0.9" fill="#1a1a1a"/>
<rect x="32.70" y="295.30" width="1.6" height="0.9" fill="#1a1a1a"/>
<rect x="32.70" y="290.48" width="1.6" height="0.9" fill="#1a1a1a"/>
<rect x="32.70" y="286.54" width="1.6" height="0.9" fill="#1a1a1a"/>
<rect x="32.70" y="283.21" width="1.6" height="0.9" fill="#1a1a1a"/>
<rect x="32.70" y="280.32" width="1.6" height="0.9" fill="#1a1a1a"/>
<rect x="32.70" y="277.78" width="1.6" height="0.9" fill="#1a1a1a"/>
<rect x="32.70" y="260.52" width="1.6" height="0.9" fill="#1a1a1a"/>
<rect x="32.70" y="251.76" width="1.6" height="0.9" fill="#1a1a1a"/>
<rect x="32.70" y="245.55" width="1.6" height="0.9" fill="#1a1a1a"/>
<rect x="32.70" y="240.73" width="1.6" height="0.9" fill="#1a1a1a"/>
<rect x="32.70" y="236.79" width="1.6" height="0.9" fill="#1a1a1a"/>
<rect x="32.70" y="233.46" width="1.6" height="0.9" fill="#1a1a1a"/>
<rect x="32.70" y="230.57" width="1.6" height="0.9" fill="#1a1a1a"/>
<rect x="32.70" y="228.03" width="1.6" height="0.9" fill="#1a1a1a"/>
<rect x="32.70" y="210.77" width="1.6" height="0.9" fill="#1a1a1a"/>
<rect x="32.70" y="202.01" width="1.6" height="0.9" fill="#1a1a1a"/>
<rect x="32.70" y="195.80" width="1.6" height="0.9" fill="#1a1a1a"/>
<rect x="43.15" y="330.40" width="1.1" height="3" fill="#1a1a1a"/>
<text transform="translate(48.80,338.50) rotate(-45)" text-anchor="end" font-size="7.3" fill="#3a3a3a" textLength="23.00" lengthAdjust="spacingAndGlyphs">HC (37)</text>
<rect x="56.38" y="330.40" width="1.1" height="3" fill="#1a1a1a"/>
<text transform="translate(62.03,338.50) rotate(-45)" text-anchor="end" font-size="7.3" fill="#3a3a3a" textLength="42.87" lengthAdjust="spacingAndGlyphs">Still&#39;s/sJIA (10)</text>
<rect x="69.61" y="330.40" width="1.1" height="3" fill="#1a1a1a"/>
<text transform="translate(75.26,338.50) rotate(-45)" text-anchor="end" font-size="7.3" fill="#3a3a3a" textLength="27.74" lengthAdjust="spacingAndGlyphs">MAS (15)</text>
<rect x="82.84" y="330.40" width="1.1" height="3" fill="#1a1a1a"/>
<text transform="translate(88.49,338.50) rotate(-45)" text-anchor="end" font-size="7.3" fill="#3a3a3a" textLength="47.82" lengthAdjust="spacingAndGlyphs">NLRC4-MAS (3)</text>
<rect x="96.07" y="330.40" width="1.1" height="3" fill="#1a1a1a"/>
<text transform="translate(101.72,338.50) rotate(-45)" text-anchor="end" font-size="7.3" fill="#3a3a3a" textLength="31.40" lengthAdjust="spacingAndGlyphs">CAPS (12)</text>
<rect x="109.30" y="330.40" width="1.1" height="3" fill="#1a1a1a"/>
<text transform="translate(114.95,338.50) rotate(-45)" text-anchor="end" font-size="7.3" fill="#3a3a3a" textLength="23.35" lengthAdjust="spacingAndGlyphs">FMF (6)</text>
<rect x="122.53" y="330.40" width="1.1" height="3" fill="#1a1a1a"/>
<text transform="translate(128.18,338.50) rotate(-45)" text-anchor="end" font-size="7.3" fill="#3a3a3a" textLength="32.00" lengthAdjust="spacingAndGlyphs">PAAND (3)</text>
<rect x="135.76" y="330.40" width="1.1" height="3" fill="#1a1a1a"/>
<text transform="translate(141.41,338.50) rotate(-45)" text-anchor="end" font-size="7.3" fill="#3a3a3a" textLength="35.04" lengthAdjust="spacingAndGlyphs">MA-HLH (3)</text>
<rect x="148.99" y="330.40" width="1.1" height="3" fill="#1a1a1a"/>
<text transform="translate(154.64,338.50) rotate(-45)" text-anchor="end" font-size="7.3" fill="#3a3a3a" textLength="24.82" lengthAdjust="spacingAndGlyphs">fHLH (1)</text>
<rect x="162.22" y="330.40" width="1.1" height="3" fill="#1a1a1a"/>
<text transform="translate(167.87,338.50) rotate(-45)" text-anchor="end" font-size="7.3" fill="#3a3a3a" textLength="36.15" lengthAdjust="spacingAndGlyphs">XIAP-def (2)</text>
<rect x="175.45" y="330.40" width="1.1" height="3" fill="#1a1a1a"/>
<text transform="translate(181.10,338.50) rotate(-45)" text-anchor="end" font-size="7.3" fill="#3a3a3a" textLength="42.97" lengthAdjust="spacingAndGlyphs">Undiff AID (14)</text>
<rect x="188.68" y="330.40" width="1.1" height="3" fill="#1a1a1a"/>
<text transform="translate(194.33,338.50) rotate(-45)" text-anchor="end" font-size="7.3" fill="#3a3a3a" textLength="40.16" lengthAdjust="spacingAndGlyphs">CANDLE (12)</text>
<rect x="201.91" y="330.40" width="1.1" height="3" fill="#1a1a1a"/>
<text transform="translate(207.56,338.50) rotate(-45)" text-anchor="end" font-size="7.3" fill="#3a3a3a" textLength="24.34" lengthAdjust="spacingAndGlyphs">SAVI (5)</text>
<rect x="215.14" y="330.40" width="1.1" height="3" fill="#1a1a1a"/>
<text transform="translate(220.79,338.50) rotate(-45)" text-anchor="end" font-size="7.3" fill="#3a3a3a" textLength="62.68" lengthAdjust="spacingAndGlyphs">Undiff IFNopathy (13)</text>
<rect x="228.37" y="330.40" width="1.1" height="3" fill="#1a1a1a"/>
<text transform="translate(234.02,338.50) rotate(-45)" text-anchor="end" font-size="7.3" fill="#3a3a3a" textLength="24.45" lengthAdjust="spacingAndGlyphs">CNO (8)</text>
<rect x="241.60" y="330.40" width="1.1" height="3" fill="#1a1a1a"/>
<text transform="translate(247.25,338.50) rotate(-45)" text-anchor="end" font-size="7.3" fill="#3a3a3a" textLength="31.76" lengthAdjust="spacingAndGlyphs">DADA2 (5)</text>
<rect x="254.83" y="330.40" width="1.1" height="3" fill="#1a1a1a"/>
<text transform="translate(260.48,338.50) rotate(-45)" text-anchor="end" font-size="7.3" fill="#3a3a3a" textLength="31.76" lengthAdjust="spacingAndGlyphs">TRAPS (2)</text>
<rect x="268.06" y="330.40" width="1.1" height="3" fill="#1a1a1a"/>
<text transform="translate(273.71,338.50) rotate(-45)" text-anchor="end" font-size="7.3" fill="#3a3a3a" textLength="25.19" lengthAdjust="spacingAndGlyphs">DIRA (4)</text>
<text transform="translate(13.90,261.50) rotate(-90)" text-anchor="middle" font-size="8.2" fill="#4d4d4d" textLength="48.30" lengthAdjust="spacingAndGlyphs">IL-18BP pg/mL</text>
<rect x="310.60" y="114.70" width="202.60" height="28.10" fill="#e8e8e8"/>
<circle cx="320.00" cy="116.30" r="1.30" fill="#a01a48"/>
<circle cx="320.00" cy="125.60" r="1.30" fill="#a01a48"/>
<circle cx="320.00" cy="127.25" r="1.30" fill="#a01a48"/>
<circle cx="320.00" cy="128.90" r="1.30" fill="#a01a48"/>
<circle cx="320.00" cy="130.55" r="1.30" fill="#a01a48"/>
<circle cx="320.00" cy="132.20" r="1.30" fill="#a01a48"/>
<circle cx="320.00" cy="133.85" r="1.30" fill="#a01a48"/>
<circle cx="320.00" cy="135.50" r="1.30" fill="#a01a48"/>
<circle cx="320.00" cy="137.15" r="1.30" fill="#a01a48"/>
<circle cx="320.00" cy="138.80" r="1.30" fill="#a01a48"/>
<circle cx="320.00" cy="140.45" r="1.30" fill="#a01a48"/>
<circle cx="320.00" cy="142.10" r="1.30" fill="#a01a48"/>
<circle cx="333.23" cy="117.90" r="1.20" fill="#da8f36"/>
<circle cx="333.23" cy="125.60" r="1.20" fill="#da8f36"/>
<circle cx="333.23" cy="127.34" r="1.20" fill="#da8f36"/>
<circle cx="333.23" cy="129.08" r="1.20" fill="#da8f36"/>
<circle cx="333.23" cy="130.82" r="1.20" fill="#da8f36"/>
<circle cx="333.23" cy="132.56" r="1.20" fill="#da8f36"/>
<circle cx="333.23" cy="134.30" r="1.20" fill="#da8f36"/>
<circle cx="333.23" cy="136.04" r="1.20" fill="#da8f36"/>
<circle cx="333.23" cy="137.78" r="1.20" fill="#da8f36"/>
<circle cx="333.23" cy="139.52" r="1.20" fill="#da8f36"/>
<circle cx="333.23" cy="141.26" r="1.20" fill="#da8f36"/>
<circle cx="333.23" cy="143.00" r="1.20" fill="#da8f36"/>
<circle cx="333.23" cy="156.60" r="1.20" fill="#da8f36"/>
<circle cx="346.46" cy="29.40" r="1.15" fill="#940e3e"/>
<circle cx="346.46" cy="53.40" r="1.15" fill="#940e3e"/>
<circle cx="346.46" cy="84.50" r="1.15" fill="#940e3e"/>
<circle cx="346.46" cy="88.60" r="1.15" fill="#940e3e"/>
<circle cx="346.46" cy="97.50" r="1.15" fill="#940e3e"/>
<circle cx="346.46" cy="109.80" r="1.15" fill="#940e3e"/>
<circle cx="346.46" cy="121.10" r="1.15" fill="#940e3e"/>
<circle cx="346.46" cy="129.30" r="1.15" fill="#940e3e"/>
<circle cx="346.46" cy="130.91" r="1.15" fill="#940e3e"/>
<circle cx="346.46" cy="132.53" r="1.15" fill="#940e3e"/>
<circle cx="346.46" cy="134.14" r="1.15" fill="#940e3e"/>
<circle cx="346.46" cy="135.76" r="1.15" fill="#940e3e"/>
<circle cx="346.46" cy="137.37" r="1.15" fill="#940e3e"/>
<circle cx="346.46" cy="138.99" r="1.15" fill="#940e3e"/>
<circle cx="346.46" cy="140.60" r="1.15" fill="#940e3e"/>
<circle cx="346.46" cy="144.00" r="1.15" fill="#940e3e"/>
<circle cx="346.46" cy="147.80" r="1.15" fill="#940e3e"/>
<circle cx="359.69" cy="80.00" r="1.38" fill="#b96281" stroke="#940e3e" stroke-width="0.8"/>
<circle cx="359.69" cy="84.50" r="1.38" fill="#b96281" stroke="#940e3e" stroke-width="0.8"/>
<circle cx="359.69" cy="97.50" r="1.38" fill="#b96281" stroke="#940e3e" stroke-width="0.8"/>
<circle cx="359.69" cy="124.10" r="1.45" fill="#940e3e"/>
<circle cx="359.69" cy="126.04" r="1.45" fill="#940e3e"/>
<circle cx="359.69" cy="127.99" r="1.45" fill="#940e3e"/>
<circle cx="359.69" cy="129.93" r="1.45" fill="#940e3e"/>
<circle cx="359.69" cy="131.88" r="1.45" fill="#940e3e"/>
<circle cx="359.69" cy="133.82" r="1.45" fill="#940e3e"/>
<circle cx="359.69" cy="135.77" r="1.45" fill="#940e3e"/>
<circle cx="359.69" cy="137.71" r="1.45" fill="#940e3e"/>
<circle cx="359.69" cy="139.66" r="1.45" fill="#940e3e"/>
<circle cx="359.69" cy="141.60" r="1.45" fill="#940e3e"/>
<circle cx="372.92" cy="124.60" r="1.25" fill="#2c2a3c"/>
<circle cx="372.92" cy="132.90" r="1.25" fill="#2c2a3c"/>
<circle cx="386.15" cy="109.20" r="1.20" fill="#d6bd4f"/>
<circle cx="386.15" cy="113.60" r="1.20" fill="#d6bd4f"/>
<circle cx="386.15" cy="129.80" r="1.20" fill="#d6bd4f"/>
<circle cx="386.15" cy="135.60" r="1.20" fill="#d6bd4f"/>
<circle cx="386.15" cy="139.50" r="1.20" fill="#d6bd4f"/>
<circle cx="386.15" cy="155.50" r="1.20" fill="#d6bd4f"/>
<rect x="398.18" y="119.00" width="2.40" height="2.40" fill="#b0b0b0" stroke="#2a2a2a" stroke-width="1.1"/>
<rect x="398.18" y="134.40" width="2.40" height="2.40" fill="#b0b0b0" stroke="#2a2a2a" stroke-width="1.1"/>
<circle cx="412.61" cy="37.10" r="1.70" fill="#232a4c"/>
<circle cx="412.61" cy="52.50" r="1.70" fill="#232a4c"/>
<circle cx="412.61" cy="79.20" r="1.70" fill="#232a4c"/>
<circle cx="412.61" cy="133.70" r="1.70" fill="#232a4c"/>
<circle cx="412.61" cy="149.70" r="1.70" fill="#232a4c"/>
<circle cx="425.84" cy="74.20" r="1.52" fill="#808289" stroke="#3d3f4a" stroke-width="0.8"/>
<circle cx="439.07" cy="121.00" r="1.20" fill="#c99350"/>
<circle cx="439.07" cy="131.70" r="1.20" fill="#c99350"/>
<rect x="450.80" y="78.70" width="2.99" height="2.99" fill="#111111"/>
<rect x="450.80" y="106.00" width="2.99" height="2.99" fill="#111111"/>
<rect x="450.80" y="107.88" width="2.99" height="2.99" fill="#111111"/>
<rect x="450.80" y="109.75" width="2.99" height="2.99" fill="#111111"/>
<rect x="450.80" y="111.63" width="2.99" height="2.99" fill="#111111"/>
<rect x="450.80" y="113.50" width="2.99" height="2.99" fill="#111111"/>
<rect x="450.80" y="118.00" width="2.99" height="2.99" fill="#111111"/>
<rect x="450.80" y="120.50" width="2.99" height="2.99" fill="#111111"/>
<rect x="450.80" y="123.50" width="2.99" height="2.99" fill="#111111"/>
<rect x="450.80" y="125.20" width="2.99" height="2.99" fill="#111111"/>
<rect x="450.80" y="126.90" width="2.99" height="2.99" fill="#111111"/>
<rect x="450.80" y="128.60" width="2.99" height="2.99" fill="#111111"/>
<rect x="450.80" y="130.30" width="2.99" height="2.99" fill="#111111"/>
<rect x="450.80" y="132.00" width="2.99" height="2.99" fill="#111111"/>
<rect x="450.80" y="133.70" width="2.99" height="2.99" fill="#111111"/>
<rect x="450.80" y="135.40" width="2.99" height="2.99" fill="#111111"/>
<rect x="450.80" y="137.10" width="2.99" height="2.99" fill="#111111"/>
<rect x="450.80" y="138.80" width="2.99" height="2.99" fill="#111111"/>
<rect x="450.80" y="150.30" width="2.99" height="2.99" fill="#111111"/>
<circle cx="465.53" cy="87.00" r="1.45" fill="#42629b"/>
<circle cx="465.53" cy="110.30" r="1.45" fill="#42629b"/>
<circle cx="465.53" cy="115.40" r="1.45" fill="#42629b"/>
<circle cx="465.53" cy="118.80" r="1.45" fill="#42629b"/>
<rect x="490.84" y="82.45" width="2.30" height="2.30" fill="#2a345c"/>
<rect x="490.84" y="88.65" width="2.30" height="2.30" fill="#2a345c"/>
<rect x="490.84" y="103.05" width="2.30" height="2.30" fill="#2a345c"/>
<rect x="490.84" y="110.45" width="2.30" height="2.30" fill="#2a345c"/>
<rect x="490.84" y="112.55" width="2.30" height="2.30" fill="#2a345c"/>
<rect x="490.84" y="117.05" width="2.30" height="2.30" fill="#2a345c"/>
<rect x="490.84" y="126.95" width="2.30" height="2.30" fill="#2a345c"/>
<rect x="490.84" y="129.85" width="2.30" height="2.30" fill="#2a345c"/>
<rect x="490.84" y="138.75" width="2.30" height="2.30" fill="#2a345c"/>
<rect x="490.84" y="146.95" width="2.30" height="2.30" fill="#2a345c"/>
<circle cx="505.22" cy="121.30" r="1.33" fill="#d98ab4" stroke="#b3166a" stroke-width="0.8"/>
<circle cx="505.22" cy="128.90" r="1.40" fill="#b3166a"/>
<circle cx="505.22" cy="132.60" r="1.40" fill="#b3166a"/>
<circle cx="505.22" cy="134.30" r="1.40" fill="#b3166a"/>
<circle cx="505.22" cy="136.00" r="1.40" fill="#b3166a"/>
<circle cx="505.22" cy="137.80" r="1.40" fill="#b3166a"/>
<rect x="315.40" y="133.22" width="9.2" height="1.35" fill="#1c1f1c"/>
<rect x="328.63" y="136.12" width="9.2" height="1.35" fill="#1c1f1c"/>
<rect x="341.86" y="131.02" width="9.2" height="1.35" fill="#1c1f1c"/>
<rect x="355.09" y="128.62" width="9.2" height="1.35" fill="#1c1f1c"/>
<rect x="368.32" y="127.83" width="9.2" height="1.35" fill="#1c1f1c"/>
<rect x="381.55" y="133.02" width="9.2" height="1.35" fill="#1c1f1c"/>
<rect x="394.78" y="134.52" width="9.2" height="1.35" fill="#1c1f1c"/>
<rect x="408.01" y="78.53" width="9.2" height="1.35" fill="#1c1f1c"/>
<rect x="434.47" y="124.83" width="9.2" height="1.35" fill="#1c1f1c"/>
<rect x="447.70" y="125.73" width="9.2" height="1.35" fill="#1c1f1c"/>
<rect x="460.93" y="109.62" width="9.2" height="1.35" fill="#1c1f1c"/>
<rect x="487.39" y="117.53" width="9.2" height="1.35" fill="#1c1f1c"/>
<rect x="500.62" y="134.02" width="9.2" height="1.35" fill="#1c1f1c"/>
<rect x="309.80" y="24.20" width="1.6" height="134.50" fill="#1a1a1a"/>
<rect x="309.80" y="157.10" width="203.40" height="1.6" fill="#1a1a1a"/>
<rect x="307.20" y="151.45" width="3" height="1.1" fill="#1a1a1a"/>
<text x="302.20" y="155.10" text-anchor="end" font-size="6.8" fill="#505050" textLength="6.4" lengthAdjust="spacingAndGlyphs">10</text><text x="302.40" y="153.20" font-size="4" fill="#606060">3</text>
<rect x="307.20" y="110.05" width="3" height="1.1" fill="#1a1a1a"/>
<text x="302.20" y="113.70" text-anchor="end" font-size="6.8" fill="#505050" textLength="6.4" lengthAdjust="spacingAndGlyphs">10</text><text x="302.40" y="111.80" font-size="4" fill="#606060">4</text>
<rect x="307.20" y="68.65" width="3" height="1.1" fill="#1a1a1a"/>
<text x="302.20" y="72.30" text-anchor="end" font-size="6.8" fill="#505050" textLength="6.4" lengthAdjust="spacingAndGlyphs">10</text><text x="302.40" y="70.40" font-size="4" fill="#606060">5</text>
<rect x="307.20" y="27.25" width="3" height="1.1" fill="#1a1a1a"/>
<text x="302.20" y="30.90" text-anchor="end" font-size="6.8" fill="#505050" textLength="6.4" lengthAdjust="spacingAndGlyphs">10</text><text x="302.40" y="29.00" font-size="4" fill="#606060">6</text>
<rect x="308.50" y="155.56" width="1.6" height="0.9" fill="#1a1a1a"/>
<rect x="308.50" y="153.44" width="1.6" height="0.9" fill="#1a1a1a"/>
<rect x="308.50" y="139.09" width="1.6" height="0.9" fill="#1a1a1a"/>
<rect x="308.50" y="131.80" width="1.6" height="0.9" fill="#1a1a1a"/>
<rect x="308.50" y="126.62" width="1.6" height="0.9" fill="#1a1a1a"/>
<rect x="308.50" y="122.61" width="1.6" height="0.9" fill="#1a1a1a"/>
<rect x="308.50" y="119.33" width="1.6" height="0.9" fill="#1a1a1a"/>
<rect x="308.50" y="116.56" width="1.6" height="0.9" fill="#1a1a1a"/>
<rect x="308.50" y="114.16" width="1.6" height="0.9" fill="#1a1a1a"/>
<rect x="308.50" y="112.04" width="1.6" height="0.9" fill="#1a1a1a"/>
<rect x="308.50" y="97.69" width="1.6" height="0.9" fill="#1a1a1a"/>
<rect x="308.50" y="90.40" width="1.6" height="0.9" fill="#1a1a1a"/>
<rect x="308.50" y="85.22" width="1.6" height="0.9" fill="#1a1a1a"/>
<rect x="308.50" y="81.21" width="1.6" height="0.9" fill="#1a1a1a"/>
<rect x="308.50" y="77.93" width="1.6" height="0.9" fill="#1a1a1a"/>
<rect x="308.50" y="75.16" width="1.6" height="0.9" fill="#1a1a1a"/>
<rect x="308.50" y="72.76" width="1.6" height="0.9" fill="#1a1a1a"/>
<rect x="308.50" y="70.64" width="1.6" height="0.9" fill="#1a1a1a"/>
<rect x="308.50" y="56.29" width="1.6" height="0.9" fill="#1a1a1a"/>
<rect x="308.50" y="49.00" width="1.6" height="0.9" fill="#1a1a1a"/>
<rect x="308.50" y="43.82" width="1.6" height="0.9" fill="#1a1a1a"/>
<rect x="308.50" y="39.81" width="1.6" height="0.9" fill="#1a1a1a"/>
<rect x="308.50" y="36.53" width="1.6" height="0.9" fill="#1a1a1a"/>
<rect x="308.50" y="33.76" width="1.6" height="0.9" fill="#1a1a1a"/>
<rect x="308.50" y="31.36" width="1.6" height="0.9" fill="#1a1a1a"/>
<rect x="308.50" y="29.24" width="1.6" height="0.9" fill="#1a1a1a"/>
<rect x="319.45" y="158.40" width="1.1" height="3" fill="#1a1a1a"/>
<text transform="translate(325.10,166.50) rotate(-45)" text-anchor="end" font-size="7.3" fill="#3a3a3a" textLength="11.68" lengthAdjust="spacingAndGlyphs">(17)</text>
<rect x="332.68" y="158.40" width="1.1" height="3" fill="#1a1a1a"/>
<text transform="translate(338.33,166.50) rotate(-45)" text-anchor="end" font-size="7.3" fill="#3a3a3a" textLength="8.03" lengthAdjust="spacingAndGlyphs">(7)</text>
<rect x="345.91" y="158.40" width="1.1" height="3" fill="#1a1a1a"/>
<text transform="translate(351.56,166.50) rotate(-45)" text-anchor="end" font-size="7.3" fill="#3a3a3a" textLength="11.68" lengthAdjust="spacingAndGlyphs">(12)</text>
<rect x="359.14" y="158.40" width="1.1" height="3" fill="#1a1a1a"/>
<text transform="translate(364.79,166.50) rotate(-45)" text-anchor="end" font-size="7.3" fill="#3a3a3a" textLength="8.03" lengthAdjust="spacingAndGlyphs">(3)</text>
<rect x="372.37" y="158.40" width="1.1" height="3" fill="#1a1a1a"/>
<text transform="translate(378.02,166.50) rotate(-45)" text-anchor="end" font-size="7.3" fill="#3a3a3a" textLength="8.03" lengthAdjust="spacingAndGlyphs">(2)</text>
<rect x="385.60" y="158.40" width="1.1" height="3" fill="#1a1a1a"/>
<text transform="translate(391.25,166.50) rotate(-45)" text-anchor="end" font-size="7.3" fill="#3a3a3a" textLength="8.03" lengthAdjust="spacingAndGlyphs">(6)</text>
<rect x="398.83" y="158.40" width="1.1" height="3" fill="#1a1a1a"/>
<text transform="translate(404.48,166.50) rotate(-45)" text-anchor="end" font-size="7.3" fill="#3a3a3a" textLength="8.03" lengthAdjust="spacingAndGlyphs">(3)</text>
<rect x="412.06" y="158.40" width="1.1" height="3" fill="#1a1a1a"/>
<text transform="translate(417.71,166.50) rotate(-45)" text-anchor="end" font-size="7.3" fill="#3a3a3a" textLength="8.03" lengthAdjust="spacingAndGlyphs">(3)</text>
<rect x="425.29" y="158.40" width="1.1" height="3" fill="#1a1a1a"/>
<text transform="translate(430.94,166.50) rotate(-45)" text-anchor="end" font-size="7.3" fill="#3a3a3a" textLength="8.03" lengthAdjust="spacingAndGlyphs">(1)</text>
<rect x="438.52" y="158.40" width="1.1" height="3" fill="#1a1a1a"/>
<text transform="translate(444.17,166.50) rotate(-45)" text-anchor="end" font-size="7.3" fill="#3a3a3a" textLength="8.03" lengthAdjust="spacingAndGlyphs">(2)</text>
<rect x="451.75" y="158.40" width="1.1" height="3" fill="#1a1a1a"/>
<text transform="translate(457.40,166.50) rotate(-45)" text-anchor="end" font-size="7.3" fill="#3a3a3a" textLength="11.68" lengthAdjust="spacingAndGlyphs">(14)</text>
<rect x="464.98" y="158.40" width="1.1" height="3" fill="#1a1a1a"/>
<text transform="translate(470.63,166.50) rotate(-45)" text-anchor="end" font-size="7.3" fill="#3a3a3a" textLength="8.03" lengthAdjust="spacingAndGlyphs">(5)</text>
<rect x="478.21" y="158.40" width="1.1" height="3" fill="#1a1a1a"/>
<text transform="translate(483.86,166.50) rotate(-45)" text-anchor="end" font-size="7.3" fill="#3a3a3a" textLength="8.03" lengthAdjust="spacingAndGlyphs">(0)</text>
<rect x="491.44" y="158.40" width="1.1" height="3" fill="#1a1a1a"/>
<text transform="translate(497.09,166.50) rotate(-45)" text-anchor="end" font-size="7.3" fill="#3a3a3a" textLength="11.68" lengthAdjust="spacingAndGlyphs">(14)</text>
<rect x="504.67" y="158.40" width="1.1" height="3" fill="#1a1a1a"/>
<text transform="translate(510.32,166.50) rotate(-45)" text-anchor="end" font-size="7.3" fill="#3a3a3a" textLength="8.03" lengthAdjust="spacingAndGlyphs">(6)</text>
<text transform="translate(290.70,89.40) rotate(-90)" text-anchor="middle" font-size="8.2" fill="#4d4d4d" textLength="46.50" lengthAdjust="spacingAndGlyphs">CXCL9 pg/mL</text>
<circle cx="320.00" cy="327.50" r="1.30" fill="#a01a48"/>
<circle cx="320.00" cy="329.50" r="1.30" fill="#a01a48"/>
<circle cx="320.00" cy="331.50" r="1.30" fill="#a01a48"/>
<circle cx="333.23" cy="202.00" r="1.14" fill="#b08a4a"/>
<circle cx="333.23" cy="214.40" r="1.14" fill="#b08a4a"/>
<circle cx="333.23" cy="286.80" r="1.14" fill="#b08a4a"/>
<circle cx="333.23" cy="304.50" r="1.20" fill="#da8f36"/>
<circle cx="333.23" cy="307.50" r="1.20" fill="#da8f36"/>
<circle cx="333.23" cy="310.40" r="1.20" fill="#da8f36"/>
<circle cx="333.23" cy="313.70" r="1.20" fill="#da8f36"/>
<circle cx="333.23" cy="317.90" r="1.20" fill="#da8f36"/>
<circle cx="333.23" cy="320.00" r="1.20" fill="#da8f36"/>
<circle cx="333.23" cy="321.62" r="1.20" fill="#da8f36"/>
<circle cx="333.23" cy="323.25" r="1.20" fill="#da8f36"/>
<circle cx="333.23" cy="324.88" r="1.20" fill="#da8f36"/>
<circle cx="333.23" cy="326.50" r="1.20" fill="#da8f36"/>
<circle cx="333.23" cy="328.12" r="1.20" fill="#da8f36"/>
<circle cx="333.23" cy="329.75" r="1.20" fill="#da8f36"/>
<circle cx="333.23" cy="331.38" r="1.20" fill="#da8f36"/>
<circle cx="333.23" cy="333.00" r="1.20" fill="#da8f36"/>
<circle cx="346.46" cy="196.70" r="1.35" fill="#940e3e"/>
<circle cx="346.46" cy="198.70" r="1.35" fill="#940e3e"/>
<circle cx="346.46" cy="214.00" r="1.35" fill="#940e3e"/>
<circle cx="346.46" cy="224.80" r="1.35" fill="#940e3e"/>
<circle cx="346.46" cy="234.90" r="1.35" fill="#940e3e"/>
<circle cx="346.46" cy="239.90" r="1.35" fill="#940e3e"/>
<circle cx="346.46" cy="247.80" r="1.35" fill="#940e3e"/>
<circle cx="346.46" cy="249.50" r="1.35" fill="#940e3e"/>
<circle cx="346.46" cy="251.70" r="1.35" fill="#940e3e"/>
<circle cx="346.46" cy="253.70" r="1.35" fill="#940e3e"/>
<circle cx="346.46" cy="255.90" r="1.35" fill="#940e3e"/>
<circle cx="346.46" cy="258.00" r="1.35" fill="#940e3e"/>
<circle cx="346.46" cy="260.40" r="1.35" fill="#940e3e"/>
<circle cx="346.46" cy="262.60" r="1.35" fill="#940e3e"/>
<circle cx="346.46" cy="265.10" r="1.35" fill="#940e3e"/>
<circle cx="346.46" cy="267.60" r="1.35" fill="#940e3e"/>
<circle cx="346.46" cy="272.10" r="1.35" fill="#940e3e"/>
<circle cx="346.46" cy="276.00" r="1.35" fill="#940e3e"/>
<circle cx="346.46" cy="278.50" r="1.35" fill="#940e3e"/>
<circle cx="346.46" cy="281.00" r="1.35" fill="#940e3e"/>
<circle cx="346.46" cy="283.50" r="1.35" fill="#940e3e"/>
<circle cx="346.46" cy="286.00" r="1.35" fill="#940e3e"/>
<circle cx="346.46" cy="288.20" r="1.35" fill="#940e3e"/>
<circle cx="346.46" cy="290.50" r="1.35" fill="#940e3e"/>
<circle cx="346.46" cy="292.70" r="1.35" fill="#940e3e"/>
<circle cx="346.46" cy="294.90" r="1.35" fill="#940e3e"/>
<circle cx="346.46" cy="296.90" r="1.35" fill="#940e3e"/>
<circle cx="346.46" cy="299.40" r="1.35" fill="#940e3e"/>
<circle cx="346.46" cy="303.60" r="1.35" fill="#940e3e"/>
<circle cx="346.46" cy="306.10" r="1.35" fill="#940e3e"/>
<circle cx="346.46" cy="308.60" r="1.35" fill="#940e3e"/>
<circle cx="346.46" cy="312.30" r="1.35" fill="#940e3e"/>
<circle cx="359.69" cy="249.00" r="1.42" fill="#b96281" stroke="#940e3e" stroke-width="0.8"/>
<circle cx="359.69" cy="259.20" r="1.42" fill="#b96281" stroke="#940e3e" stroke-width="0.8"/>
<circle cx="359.69" cy="270.90" r="1.42" fill="#b96281" stroke="#940e3e" stroke-width="0.8"/>
<circle cx="359.69" cy="272.60" r="1.42" fill="#b96281" stroke="#940e3e" stroke-width="0.8"/>
<circle cx="359.69" cy="276.00" r="1.42" fill="#b96281" stroke="#940e3e" stroke-width="0.8"/>
<circle cx="359.69" cy="281.00" r="1.42" fill="#b96281" stroke="#940e3e" stroke-width="0.8"/>
<circle cx="359.69" cy="292.70" r="1.42" fill="#b96281" stroke="#940e3e" stroke-width="0.8"/>
<circle cx="359.69" cy="294.40" r="1.42" fill="#b96281" stroke="#940e3e" stroke-width="0.8"/>
<circle cx="359.69" cy="296.10" r="1.42" fill="#b96281" stroke="#940e3e" stroke-width="0.8"/>
<circle cx="359.69" cy="301.10" r="1.42" fill="#b96281" stroke="#940e3e" stroke-width="0.8"/>
<circle cx="372.92" cy="322.50" r="1.25" fill="#30204f"/>
<circle cx="372.92" cy="324.50" r="1.25" fill="#30204f"/>
<circle cx="372.92" cy="326.10" r="1.25" fill="#30204f"/>
<circle cx="372.92" cy="327.70" r="1.25" fill="#30204f"/>
<circle cx="372.92" cy="329.30" r="1.25" fill="#30204f"/>
<circle cx="372.92" cy="330.90" r="1.25" fill="#30204f"/>
<circle cx="372.92" cy="332.50" r="1.25" fill="#30204f"/>
<circle cx="386.15" cy="320.60" r="1.20" fill="#d6bd4f"/>
<circle cx="386.15" cy="331.00" r="1.20" fill="#d6bd4f"/>
<rect x="398.18" y="325.00" width="2.40" height="2.40" fill="#b0b0b0" stroke="#2a2a2a" stroke-width="1.1"/>
<rect x="398.18" y="328.00" width="2.40" height="2.40" fill="#b0b0b0" stroke="#2a2a2a" stroke-width="1.1"/>
<rect x="398.18" y="330.60" width="2.40" height="2.40" fill="#b0b0b0" stroke="#2a2a2a" stroke-width="1.1"/>
<circle cx="412.61" cy="287.00" r="1.70" fill="#232a4c"/>
<circle cx="412.61" cy="322.60" r="1.70" fill="#232a4c"/>
<circle cx="412.61" cy="324.25" r="1.70" fill="#232a4c"/>
<circle cx="412.61" cy="325.90" r="1.70" fill="#232a4c"/>
<circle cx="412.61" cy="327.55" r="1.70" fill="#232a4c"/>
<circle cx="412.61" cy="329.20" r="1.70" fill="#232a4c"/>
<circle cx="412.61" cy="330.85" r="1.70" fill="#232a4c"/>
<circle cx="412.61" cy="332.50" r="1.70" fill="#232a4c"/>
<circle cx="425.84" cy="329.50" r="1.60" fill="#3d3f4a"/>
<circle cx="425.84" cy="331.50" r="1.60" fill="#3d3f4a"/>
<circle cx="439.07" cy="321.00" r="1.20" fill="#c99350"/>
<circle cx="439.07" cy="322.64" r="1.20" fill="#c99350"/>
<circle cx="439.07" cy="324.29" r="1.20" fill="#c99350"/>
<circle cx="439.07" cy="325.93" r="1.20" fill="#c99350"/>
<circle cx="439.07" cy="327.57" r="1.20" fill="#c99350"/>
<circle cx="439.07" cy="329.21" r="1.20" fill="#c99350"/>
<circle cx="439.07" cy="330.86" r="1.20" fill="#c99350"/>
<circle cx="439.07" cy="332.50" r="1.20" fill="#c99350"/>
<rect x="450.80" y="321.50" width="2.99" height="2.99" fill="#111111"/>
<rect x="450.80" y="325.80" width="2.99" height="2.99" fill="#111111"/>
<rect x="450.80" y="328.00" width="2.99" height="2.99" fill="#111111"/>
<rect x="450.80" y="330.30" width="2.99" height="2.99" fill="#111111"/>
<circle cx="465.53" cy="325.60" r="1.45" fill="#42629b"/>
<circle cx="465.53" cy="328.40" r="1.45" fill="#42629b"/>
<circle cx="465.53" cy="331.00" r="1.45" fill="#42629b"/>
<circle cx="478.76" cy="329.20" r="1.40" fill="#2d3e6a"/>
<circle cx="478.76" cy="331.00" r="1.40" fill="#2d3e6a"/>
<rect x="315.40" y="328.32" width="9.2" height="1.35" fill="#1c1f1c"/>
<rect x="328.63" y="324.82" width="9.2" height="1.35" fill="#1c1f1c"/>
<rect x="341.86" y="264.43" width="9.2" height="1.35" fill="#1c1f1c"/>
<rect x="355.09" y="275.32" width="9.2" height="1.35" fill="#1c1f1c"/>
<rect x="368.32" y="326.82" width="9.2" height="1.35" fill="#1c1f1c"/>
<rect x="408.01" y="325.72" width="9.2" height="1.35" fill="#1c1f1c"/>
<rect x="434.47" y="325.02" width="9.2" height="1.35" fill="#1c1f1c"/>
<rect x="309.80" y="188.00" width="1.6" height="142.80" fill="#1a1a1a"/>
<rect x="309.80" y="329.20" width="203.20" height="1.6" fill="#1a1a1a"/>
<rect x="307.20" y="329.45" width="3" height="1.1" fill="#1a1a1a"/>
<text x="304.50" y="332.90" text-anchor="end" font-size="7.2" fill="#505050" textLength="3.17" lengthAdjust="spacingAndGlyphs">0</text>
<rect x="307.20" y="259.85" width="3" height="1.1" fill="#1a1a1a"/>
<text x="304.50" y="263.30" text-anchor="end" font-size="7.2" fill="#505050" textLength="6.34" lengthAdjust="spacingAndGlyphs">50</text>
<rect x="307.20" y="190.25" width="3" height="1.1" fill="#1a1a1a"/>
<text x="304.50" y="193.70" text-anchor="end" font-size="7.2" fill="#505050" textLength="9.51" lengthAdjust="spacingAndGlyphs">100</text>
<rect x="319.45" y="330.50" width="1.1" height="3" fill="#1a1a1a"/>
<text transform="translate(325.10,338.60) rotate(-45)" text-anchor="end" font-size="7.3" fill="#3a3a3a" textLength="23.00" lengthAdjust="spacingAndGlyphs">HC (10)</text>
<rect x="332.68" y="330.50" width="1.1" height="3" fill="#1a1a1a"/>
<text transform="translate(338.33,338.60) rotate(-45)" text-anchor="end" font-size="7.3" fill="#3a3a3a" textLength="39.22" lengthAdjust="spacingAndGlyphs">Still&#39;s/sJIA (9)</text>
<rect x="345.91" y="330.50" width="1.1" height="3" fill="#1a1a1a"/>
<text transform="translate(351.56,338.60) rotate(-45)" text-anchor="end" font-size="7.3" fill="#3a3a3a" textLength="27.74" lengthAdjust="spacingAndGlyphs">MAS (15)</text>
<rect x="359.14" y="330.50" width="1.1" height="3" fill="#1a1a1a"/>
<text transform="translate(364.79,338.60) rotate(-45)" text-anchor="end" font-size="7.3" fill="#3a3a3a" textLength="47.82" lengthAdjust="spacingAndGlyphs">NLRC4-MAS (3)</text>
<rect x="372.37" y="330.50" width="1.1" height="3" fill="#1a1a1a"/>
<text transform="translate(378.02,338.60) rotate(-45)" text-anchor="end" font-size="7.3" fill="#3a3a3a" textLength="27.75" lengthAdjust="spacingAndGlyphs">CAPS (2)</text>
<rect x="385.60" y="330.50" width="1.1" height="3" fill="#1a1a1a"/>
<text transform="translate(391.25,338.60) rotate(-45)" text-anchor="end" font-size="7.3" fill="#3a3a3a" textLength="23.35" lengthAdjust="spacingAndGlyphs">FMF (6)</text>
<rect x="398.83" y="330.50" width="1.1" height="3" fill="#1a1a1a"/>
<text transform="translate(404.48,338.60) rotate(-45)" text-anchor="end" font-size="7.3" fill="#3a3a3a" textLength="32.00" lengthAdjust="spacingAndGlyphs">PAAND (3)</text>
<rect x="412.06" y="330.50" width="1.1" height="3" fill="#1a1a1a"/>
<text transform="translate(417.71,338.60) rotate(-45)" text-anchor="end" font-size="7.3" fill="#3a3a3a" textLength="35.04" lengthAdjust="spacingAndGlyphs">MA-HLH (3)</text>
<rect x="425.29" y="330.50" width="1.1" height="3" fill="#1a1a1a"/>
<text transform="translate(430.94,338.60) rotate(-45)" text-anchor="end" font-size="7.3" fill="#3a3a3a" textLength="24.82" lengthAdjust="spacingAndGlyphs">fHLH (1)</text>
<rect x="438.52" y="330.50" width="1.1" height="3" fill="#1a1a1a"/>
<text transform="translate(444.17,338.60) rotate(-45)" text-anchor="end" font-size="7.3" fill="#3a3a3a" textLength="36.15" lengthAdjust="spacingAndGlyphs">XIAP-def (2)</text>
<rect x="451.75" y="330.50" width="1.1" height="3" fill="#1a1a1a"/>
<text transform="translate(457.40,338.60) rotate(-45)" text-anchor="end" font-size="7.3" fill="#3a3a3a" textLength="39.31" lengthAdjust="spacingAndGlyphs">Undiff AID (5)</text>
<rect x="464.98" y="330.50" width="1.1" height="3" fill="#1a1a1a"/>
<text transform="translate(470.63,338.60) rotate(-45)" text-anchor="end" font-size="7.3" fill="#3a3a3a" textLength="36.51" lengthAdjust="spacingAndGlyphs">CANDLE (5)</text>
<rect x="478.21" y="330.50" width="1.1" height="3" fill="#1a1a1a"/>
<text transform="translate(483.86,338.60) rotate(-45)" text-anchor="end" font-size="7.3" fill="#3a3a3a" textLength="24.34" lengthAdjust="spacingAndGlyphs">SAVI (2)</text>
<rect x="491.44" y="330.50" width="1.1" height="3" fill="#1a1a1a"/>
<text transform="translate(497.09,338.60) rotate(-45)" text-anchor="end" font-size="7.3" fill="#3a3a3a" textLength="59.03" lengthAdjust="spacingAndGlyphs">Undiff IFNopathy (0)</text>
<rect x="504.67" y="330.50" width="1.1" height="3" fill="#1a1a1a"/>
<text transform="translate(510.32,338.60) rotate(-45)" text-anchor="end" font-size="7.3" fill="#3a3a3a" textLength="24.45" lengthAdjust="spacingAndGlyphs">CNO (0)</text>
<text transform="translate(289.20,259.10) rotate(-90)" text-anchor="middle" font-size="8.2" fill="#4d4d4d" textLength="54.60" lengthAdjust="spacingAndGlyphs">Free IL-18 pg/mL</text>
<text x="6.90" y="15.60" font-size="10.8" font-weight="bold" fill="#000">A</text>
<text x="6.60" y="187.80" font-size="10.8" font-weight="bold" fill="#000">B</text>
<text x="281.30" y="15.70" font-size="10.8" font-weight="bold" fill="#000">C</text>
<text x="280.70" y="187.80" font-size="10.8" font-weight="bold" fill="#000">D</text>
<rect x="0" y="0" width="520" height="1.1" fill="#000"/>
<rect x="0" y="0" width="1.2" height="388" fill="#000"/>
<rect x="518.3" y="0" width="1.7" height="388" fill="#000"/>
<rect x="0" y="386.2" width="520" height="1.8" fill="#000"/>
</svg>
</body></html>
